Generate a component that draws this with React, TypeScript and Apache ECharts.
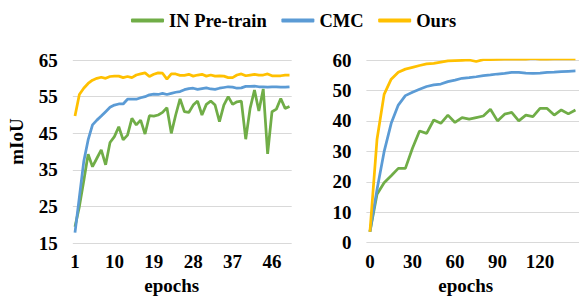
import React, { useEffect, useRef } from "react";
import * as echarts from "echarts";

const seriesNames = ["IN Pre-train", "CMC", "Ours"];
const colors = ["#70AD47", "#5B9BD5", "#FFC000"];

const leftEpochs = [
  "1","2","3","4","5","6","7","8","9","10",
  "11","12","13","14","15","16","17","18","19","20",
  "21","22","23","24","25","26","27","28","29","30",
  "31","32","33","34","35","36","37","38","39","40",
  "41","42","43","44","45","46","47","48","49","50",
];

const leftPretrain = [
  19.5, 25.0, 32.0, 39.3, 35.9, 38.2, 40.5, 36.4, 42.5, 44.1,
  46.8, 43.2, 44.5, 49.1, 47.3, 48.6, 44.8, 49.8, 49.7, 50.0,
  50.7, 52.0, 45.0, 50.0, 54.4, 50.9, 50.7, 52.7, 53.8, 50.0,
  52.9, 53.8, 52.7, 48.2, 52.7, 55.0, 52.9, 53.6, 53.8, 43.4,
  51.8, 56.8, 51.1, 57.1, 39.4, 50.9, 51.6, 54.5, 51.8, 52.3,
];

const leftCMC = [
  17.9, 27.6, 37.3, 43.2, 47.3, 48.6, 49.7, 50.9, 52.1, 52.7,
  53.0, 53.0, 54.3, 54.3, 54.3, 54.7, 55.0, 55.5, 55.7, 55.6,
  55.9, 55.6, 55.9, 56.2, 56.4, 56.9, 57.2, 57.3, 57.0, 57.2,
  57.4, 57.1, 57.0, 57.3, 57.5, 57.7, 57.6, 57.3, 57.4, 57.8,
  57.8, 57.9, 57.7, 57.7, 57.6, 57.7, 57.7, 57.6, 57.6, 57.7,
];

const leftOurs = [
  49.7, 55.6, 57.3, 58.6, 59.5, 60.0, 60.3, 60.0, 60.5, 60.6,
  60.6, 60.2, 60.5, 60.2, 60.9, 61.2, 61.5, 60.5, 61.1, 61.5,
  61.4, 59.8, 61.2, 61.2, 60.8, 60.8, 61.1, 60.6, 60.9, 61.1,
  60.6, 60.9, 60.6, 60.7, 60.6, 60.2, 60.2, 60.9, 61.2, 60.7,
  60.9, 61.1, 60.9, 60.9, 61.2, 60.7, 60.7, 60.7, 60.9, 60.9,
];

const rightEpochs = [
  "0","5","10","15","20","25","30","35","40","45",
  "50","55","60","65","70","75","80","85","90","95",
  "100","105","110","115","120","125","130","135","140","145",
];

const rightPretrain = [
  3.6, 15.9, 19.7, 22.0, 24.4, 24.4, 31.0, 36.7, 35.9, 40.3,
  39.2, 41.9, 39.5, 41.1, 40.6, 41.1, 41.6, 43.8, 40.0, 42.2,
  42.8, 40.0, 41.9, 41.4, 44.1, 44.1, 41.9, 43.6, 42.3, 43.6,
];

const rightCMC = [
  3.6, 17.5, 29.9, 39.2, 45.2, 48.3, 49.4, 50.4, 51.3, 51.8,
  52.1, 52.9, 53.4, 54.0, 54.2, 54.5, 54.9, 55.1, 55.4, 55.6,
  55.9, 55.9, 55.7, 55.6, 55.7, 55.9, 56.0, 56.2, 56.3, 56.4,
];

const rightOurs = [
  3.6, 34.0, 48.7, 53.7, 56.0, 57.0, 57.6, 58.2, 58.7, 58.9,
  59.3, 59.7, 59.8, 59.9, 60.0, 59.5, 60.1, 60.1, 60.2, 60.3,
  60.3, 60.4, 60.3, 60.5, 60.3, 60.3, 60.4, 60.4, 60.4, 60.4,
];

const FONT = "'Liberation Serif', 'Times New Roman', serif";
const GRID_COLOR = "#D9D9D9";

function makeSeries(name: string, color: string, data: number[], idx: number) {
  return {
    name,
    type: "line",
    xAxisIndex: idx,
    yAxisIndex: idx,
    data,
    showSymbol: false,
    symbol: "none",
    lineStyle: { color, width: 2.75 },
    itemStyle: { color },
  };
}

export default function App() {
  const ref = useRef<HTMLDivElement>(null);
  useEffect(() => {
    const chart = echarts.init(ref.current!, null, { renderer: "svg", width: 579, height: 297 });
    const labelStyle = { fontFamily: FONT, fontWeight: "bold", fontSize: 19, color: "#000" };
    const xAxisCommon = {
      type: "category",
      boundaryGap: true,
      axisLine: { show: false },
      axisTick: { show: false },
      splitLine: { show: false },
    };
    const yAxisCommon = {
      type: "value",
      axisLine: { show: false },
      axisTick: { show: false },
      splitLine: { show: true, lineStyle: { color: GRID_COLOR, width: 1 } },
    };
    const option = {
      animation: false,
      backgroundColor: "#fff",
      legend: {
        top: 6,
        left: 126,
        itemWidth: 33,
        itemHeight: 4,
        itemGap: 14.6,
        icon: "roundRect",
        data: seriesNames,
        textStyle: { fontFamily: FONT, fontWeight: "bold", fontSize: 18.5, color: "#000" },
      },
      grid: [
        { left: 72.8, top: 60, width: 218.9, height: 183.3 },
        { left: 366.4, top: 60, width: 217.5, height: 182.7 },
      ],
      xAxis: [
        { ...xAxisCommon, gridIndex: 0, data: leftEpochs, axisLabel: { ...labelStyle, interval: 8, margin: 9 } },
        { ...xAxisCommon, gridIndex: 1, data: rightEpochs, axisLabel: { ...labelStyle, interval: 5, margin: 9 } },
      ],
      yAxis: [
        { ...yAxisCommon, gridIndex: 0, min: 15, max: 65, interval: 10, axisLabel: { ...labelStyle, margin: 15 } },
        { ...yAxisCommon, gridIndex: 1, min: 0, max: 60, interval: 10, axisLabel: { ...labelStyle, margin: 15 } },
      ],
      graphic: [
        {
          type: "text",
          x: 171.7,
          y: 285,
          style: { text: "epochs", fontFamily: FONT, fontWeight: "bold", fontSize: 19, fill: "#000", align: "center", verticalAlign: "middle" },
        },
        {
          type: "text",
          x: 465.8,
          y: 285,
          style: { text: "epochs", fontFamily: FONT, fontWeight: "bold", fontSize: 19, fill: "#000", align: "center", verticalAlign: "middle" },
        },
        {
          type: "text",
          x: 16.5,
          y: 141.5,
          rotation: Math.PI / 2,
          style: { text: "mIoU", fontFamily: FONT, fontWeight: "bold", fontSize: 19, fill: "#000", align: "center", verticalAlign: "middle" },
        },
      ],
      series: [
        makeSeries(seriesNames[0], colors[0], leftPretrain, 0),
        makeSeries(seriesNames[1], colors[1], leftCMC, 0),
        makeSeries(seriesNames[2], colors[2], leftOurs, 0),
        makeSeries(seriesNames[0], colors[0], rightPretrain, 1),
        makeSeries(seriesNames[1], colors[1], rightCMC, 1),
        makeSeries(seriesNames[2], colors[2], rightOurs, 1),
      ],
    };
    chart.setOption(option as any);
    return () => chart.dispose();
  }, []);
  return (
    <div
      ref={ref}
      style={{ position: "fixed", left: 0, top: 0, width: 579, height: 297, background: "#fff" }}
    />
  );
}
